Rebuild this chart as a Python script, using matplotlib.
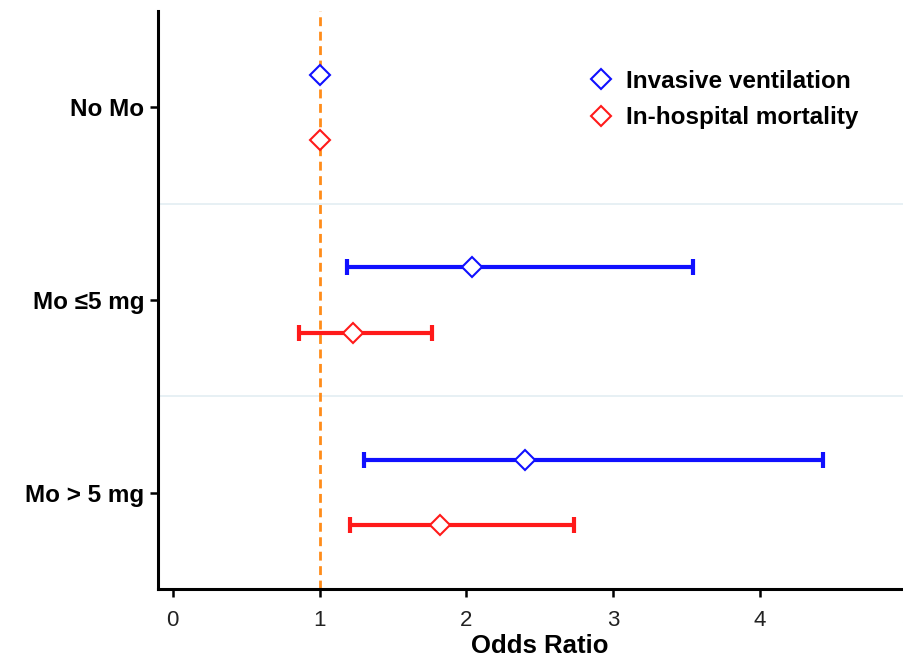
import matplotlib
matplotlib.use("Agg")
import matplotlib.pyplot as plt
from matplotlib.lines import Line2D

categories = ["No Mo", "Mo \u22645 mg", "Mo > 5 mg"]
series_names = ["Invasive ventilation", "In-hospital mortality"]
colors = ["#1010ff", "#ff1a1a"]

vent_or = [1.0, 2.04, 2.40]
vent_lo = [None, 1.19, 1.30]
vent_hi = [None, 3.54, 4.43]

mort_or = [1.0, 1.23, 1.82]
mort_lo = [None, 0.86, 1.21]
mort_hi = [None, 1.765, 2.735]

xticks = [0, 1, 2, 3, 4, 5]
ref_value = 1.0

plt.rcParams['font.family'] = ['Liberation Sans', 'DejaVu Sans']

fig = plt.figure(figsize=(9.04, 6.56), dpi=100)
ax = fig.add_axes([158/904, 67/656, 763.7/904, 578/656])

ypos = [3, 2, 1]
offset = 0.17

for sep in [1.5, 2.5]:
    ax.axhline(sep, color="#e3eef2", lw=1.2, zorder=1)

ax.axvline(ref_value, color="#ff8c1a", lw=2.0, linestyle=(0, (3.2, 2.0)), zorder=2)

series = [(vent_or, vent_lo, vent_hi, +offset), (mort_or, mort_lo, mort_hi, -offset)]
for (orv, lo, hi, off), col in zip(series, colors):
    for i, y in enumerate(ypos):
        yy = y + off
        if lo[i] is not None:
            ax.errorbar([orv[i]], [yy], xerr=[[orv[i] - lo[i]], [hi[i] - orv[i]]],
                        fmt='none', ecolor=col, elinewidth=3.0, capsize=5.5, capthick=3.0, zorder=3)
        ax.plot([orv[i]], [yy], marker='D', ms=10, mfc='white', mec=col, mew=1.5,
                linestyle='none', zorder=4)

ax.set_xlim(-0.1, 5.1)
ax.set_ylim(0.5, 3.5)
ax.set_xticks(xticks)
ax.set_xticklabels([str(t) for t in xticks], fontsize=16, color='#222222')
ax.set_yticks(ypos)
ax.set_yticklabels(categories, fontsize=17.5, fontweight='bold')
ax.set_xlabel("Odds Ratio", fontsize=18.5, fontweight='bold', labelpad=2)

for s in ['top', 'right']:
    ax.spines[s].set_visible(False)
for s in ['left', 'bottom']:
    ax.spines[s].set_linewidth(2.2)
ax.tick_params(axis='both', length=6, width=1.8, direction='out', color='black')
ax.tick_params(axis='x', pad=9)
ax.tick_params(axis='y', pad=4)

handles = [Line2D([], [], marker='D', ms=10, mfc='white', mec=c, mew=1.5, linestyle='none')
           for c in colors]
ax.legend(handles, series_names, loc='upper left', bbox_to_anchor=(588/904, 586/656),
          bbox_transform=fig.transFigure, frameon=False,
          prop={'size': 17.5, 'weight': 'bold'}, handletextpad=0.45, labelspacing=0.55,
          borderpad=0, borderaxespad=0, handlelength=1.1)

fig.savefig("out.png", dpi=100)
